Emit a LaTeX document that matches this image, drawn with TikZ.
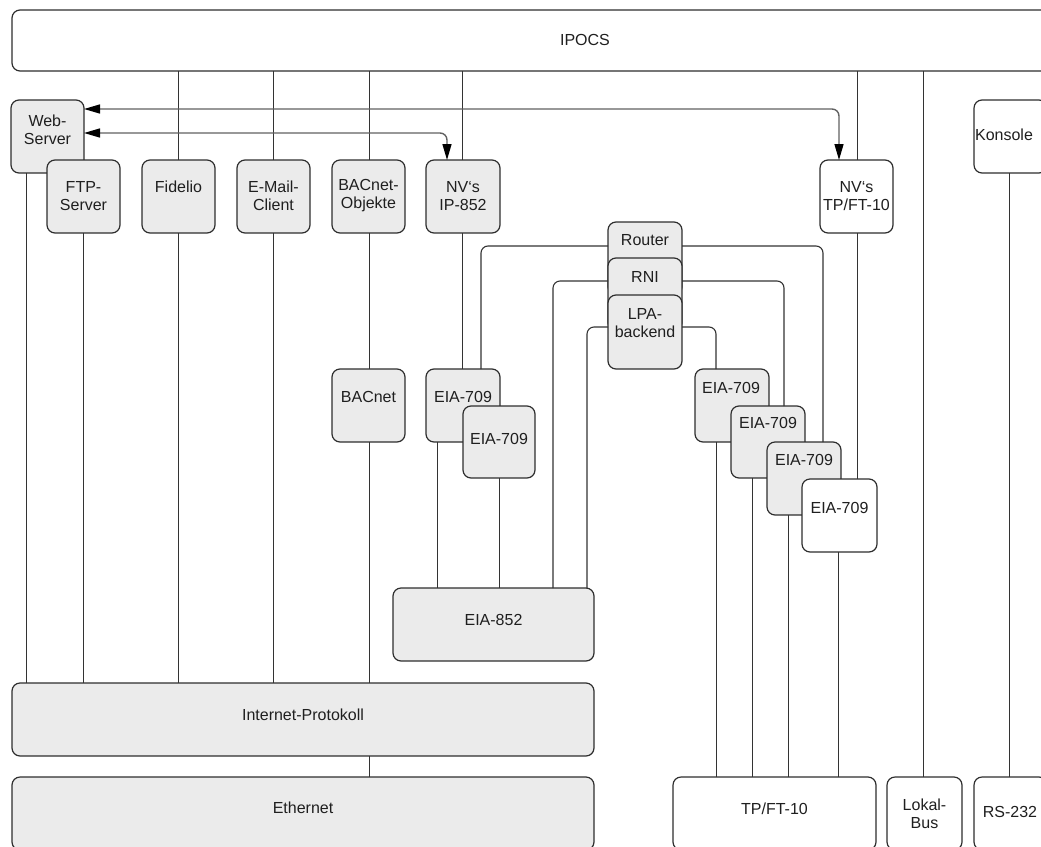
\documentclass[tikz,border=0pt]{standalone}
\usepackage{fontspec}
\setmainfont{Liberation Sans}
\usetikzlibrary{arrows.meta}
\definecolor{boxgray}{HTML}{EBEBEB}
\definecolor{edgec}{HTML}{2E2E2E}
\definecolor{wirec}{HTML}{333333}
\newcommand\Bx[6]{% style, name, x1,y1,x2,y2
  \node[#1, minimum width={(#5)-(#3)}, minimum height={(#6)-(#4)}] (#2) at ({((#3)+(#5))/2},{((#4)+(#6))/2}) {};}
\begin{document}
\begin{tikzpicture}[x=1pt,y=-1pt,
  g/.style={draw=edgec,line width=1.2pt,rounded corners=8pt,fill=boxgray,inner sep=0pt,outer sep=0pt},
  w/.style={g,fill=white},
  txt/.style={font=\fontsize{16}{18}\selectfont,align=center,inner sep=0pt,text=black!88},
  wire/.style={draw=wirec,line width=1pt},
  loop/.style={wire,line width=1.1pt,rounded corners=7pt},
  arr/.style={draw=black!62,line width=1.4pt,rounded corners=7pt,
    {Triangle[length=16pt,width=9pt,fill=black,color=black]}-{Triangle[length=16pt,width=9pt,fill=black,color=black]}}]
\useasboundingbox (0,0) rectangle (1041,846);
\clip (0,0) rectangle (1041,846);
% boxes
\Bx{w}{IPOCS}{12}{10}{1160}{71}
\Bx{g}{Web}{11}{100}{84}{173}
\Bx{g}{FTP}{47}{160}{120}{233}
\Bx{g}{Fid}{142}{160}{215}{233}
\Bx{g}{Mail}{237}{160}{310}{233}
\Bx{g}{BObj}{332}{160}{405}{233}
\Bx{g}{NVIP}{426}{160}{500}{233}
\Bx{w}{NVTP}{820}{160}{893}{233}
\Bx{w}{Kon}{974}{100}{1047}{173}
\Bx{g}{Rout}{608}{222}{682}{295}
\Bx{g}{RNI}{608}{258}{682}{331}
\Bx{g}{LPA}{608}{295}{682}{369}
\Bx{g}{BAC}{332}{369}{405}{442}
\Bx{g}{EL1}{426}{369}{500}{442}
\Bx{g}{EL2}{463}{406}{535}{478}
\Bx{g}{ER1}{695}{369}{769}{442}
\Bx{g}{ER2}{731}{406}{805}{478}
\Bx{g}{ER3}{767}{442}{841}{515}
\Bx{w}{ER4}{802}{479}{877}{552}
\Bx{g}{E852}{393}{588}{594}{661}
\Bx{g}{IP}{12}{683}{594}{756}
\Bx{g}{Eth}{12}{777}{594}{850}
\Bx{w}{TP}{673}{777}{876}{850}
\Bx{w}{Lok}{887}{777}{962}{850}
\Bx{w}{RS}{974}{777}{1047}{850}
% texts
\node[txt] (tIPOCS) at (585,40) {IPOCS};
\node[txt] (tWeb) at (47.5,130) {Web-\\Server};
\node[txt] (tFTP) at (83.5,196) {FTP-\\Server};
\node[txt] (tFid) at (178.5,187) {Fidelio};
\node[txt] (tMail) at (273.5,196) {E-Mail-\\Client};
\node[txt] (tBObj) at (368.5,196) {BACnet-\\Objekte};
\node[txt] (tNVIP) at (463,196) {NV‘s\\IP-852};
\node[txt] (tNVTP) at (856.5,196) {NV‘s\\TP/FT-10};
\node[txt] (tKon) at (1004,135) {Konsole};
\node[txt] (tRout) at (645,240) {Router};
\node[txt] (tRNI) at (645,277) {RNI};
\node[txt] (tLPA) at (645,323) {LPA-\\backend};
\node[txt] (tBAC) at (368.5,397) {BACnet};
\node[txt] (tEL1) at (463,397) {EIA-709};
\node[txt] (tEL2) at (499,439) {EIA-709};
\node[txt] (tER1) at (731,388) {EIA-709};
\node[txt] (tER2) at (768,423) {EIA-709};
\node[txt] (tER3) at (804,460) {EIA-709};
\node[txt] (tER4) at (839.5,508) {EIA-709};
\node[txt] (tE852) at (493.5,620) {EIA-852};
\node[txt] (tIP) at (303,715) {Internet-Protokoll};
\node[txt] (tEth) at (303,808) {Ethernet};
\node[txt] (tTP) at (774.5,809) {TP/FT-10};
\node[txt] (tLok) at (924.5,814) {Lokal-\\Bus};
\node[txt] (tRS) at (1010,812) {RS-232};
% reference coordinates
\coordinate (x26) at (26,0);
\coordinate (x83) at (83,0);
\coordinate (x178) at (178,0);
\coordinate (x273) at (273,0);
\coordinate (x369) at (369,0);
\coordinate (x437) at (437,0);
\coordinate (x447) at (447,0);
\coordinate (x462) at (462,0);
\coordinate (x481) at (481,0);
\coordinate (x499) at (499,0);
\coordinate (x553) at (553,0);
\coordinate (x587) at (587,0);
\coordinate (x716) at (716,0);
\coordinate (x752) at (752,0);
\coordinate (x784) at (784,0);
\coordinate (x788) at (788,0);
\coordinate (x823) at (823,0);
\coordinate (x838) at (838,0);
\coordinate (x839) at (839,0);
\coordinate (x857) at (857,0);
\coordinate (x923) at (923,0);
\coordinate (x1009) at (1009,0);
\coordinate (y109) at (0,109);
\coordinate (y133) at (0,133);
\coordinate (y246) at (0,246);
\coordinate (y281) at (0,281);
\coordinate (y327) at (0,327);
% wires from IPOCS
\draw[wire] (IPOCS.south -| x178) -- (Fid.north -| x178);
\draw[wire] (IPOCS.south -| x273) -- (Mail.north -| x273);
\draw[wire] (IPOCS.south -| x369) -- (BObj.north -| x369);
\draw[wire] (IPOCS.south -| x462) -- (NVIP.north -| x462);
\draw[wire] (IPOCS.south -| x857) -- (NVTP.north -| x857);
\draw[wire] (IPOCS.south -| x923) -- (Lok.north -| x923);
% to Internet-Protokoll
\draw[wire] (Web.south -| x26) -- (IP.north -| x26);
\draw[wire] (FTP.south -| x83) -- (IP.north -| x83);
\draw[wire] (Fid.south -| x178) -- (IP.north -| x178);
\draw[wire] (Mail.south -| x273) -- (IP.north -| x273);
\draw[wire] (BObj.south -| x369) -- (BAC.north -| x369);
\draw[wire] (BAC.south -| x369) -- (IP.north -| x369);
\draw[wire] (IP.south -| x369) -- (Eth.north -| x369);
% EIA-709 left
\draw[wire] (NVIP.south -| x462) -- (EL1.north -| x462);
\draw[wire] (EL1.south -| x437) -- (E852.north -| x437);
\draw[wire] (EL2.south -| x499) -- (E852.north -| x499);
% router / RNI / LPA loops
\draw[loop] (Rout.west |- y246) -| (EL1.north -| x481);
\draw[loop] (Rout.east |- y246) -| (ER3.north -| x823);
\draw[loop] (RNI.west |- y281) -| (E852.north -| x553);
\draw[loop] (RNI.east |- y281) -| (ER2.north -| x784);
\draw[loop] (LPA.west |- y327) -| (E852.north -| x587);
\draw[loop] (LPA.east |- y327) -| (ER1.north -| x716);
% EIA-709 right
\draw[wire] (NVTP.south -| x857) -- (ER4.north -| x857);
\draw[wire] (ER1.south -| x716) -- (TP.north -| x716);
\draw[wire] (ER2.south -| x752) -- (TP.north -| x752);
\draw[wire] (ER3.south -| x788) -- (TP.north -| x788);
\draw[wire] (ER4.south -| x838) -- (TP.north -| x838);
\draw[wire] (Kon.south -| x1009) -- (RS.north -| x1009);
% arrows
\draw[arr] (Web.east |- y109) -| (NVTP.north -| x839);
\draw[arr] (Web.east |- y133) -| (NVIP.north -| x447);
\end{tikzpicture}
\end{document}
